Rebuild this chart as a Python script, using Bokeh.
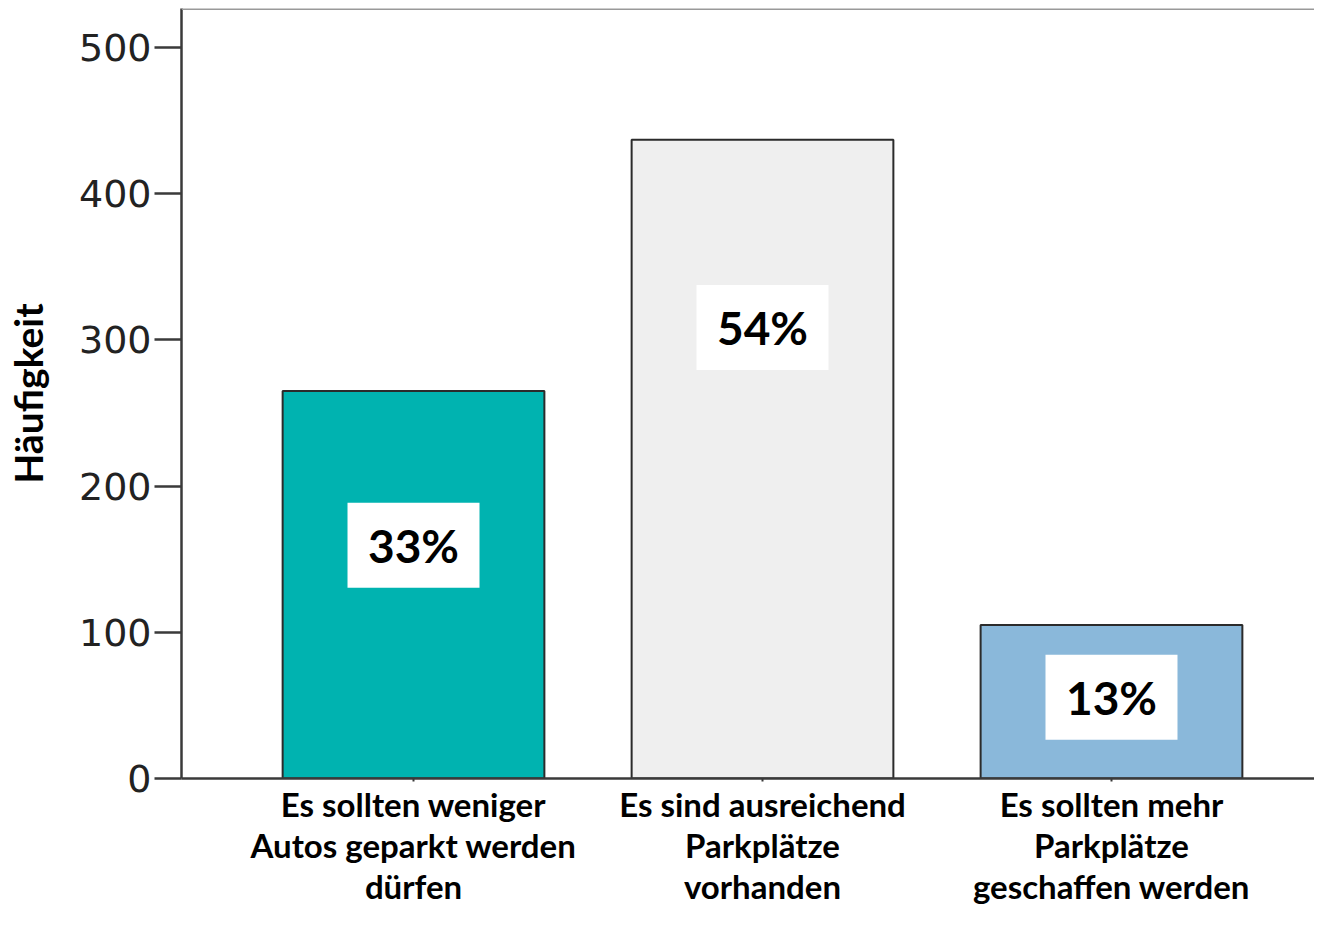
from bokeh.plotting import figure
from bokeh.models import Range1d, FixedTicker, Span
from bokeh.core.properties import value
from bokeh.embed import file_html
from bokeh.resources import INLINE

categories = [
    "Es sollten weniger\nAutos geparkt werden\ndürfen",
    "Es sind ausreichend\nParkplätze\nvorhanden",
    "Es sollten mehr\nParkplätze\ngeschaffen werden",
]
counts = [265, 437, 105]
percent_labels = ["33%", "54%", "13%"]
label_pos = [159.5, 308.5, 55.5]
bar_colors = ["#00b3b0", "#efefef", "#8ab8da"]
y_ticks = [0, 100, 200, 300, 400, 500]

xs = list(range(1, len(categories) + 1))

# layout (pixels)
W, H = 1314, 909
frame_left, frame_top, frame_bottom = 181, 8, 778
y_top = 526.7

p = figure(width=W, height=H, output_backend="svg", toolbar_location=None,
           x_range=Range1d(0.3352, 3.5817), y_range=Range1d(0, y_top),
           min_border_left=frame_left, min_border_top=frame_top,
           min_border_right=0, min_border_bottom=H - frame_bottom)
p.xgrid.visible = False
p.ygrid.visible = False
p.outline_line_color = None
p.background_fill_color = "white"
p.border_fill_color = "white"

p.vbar(x=xs, top=counts, width=0.75, fill_color=bar_colors,
       line_color="#2b2b2b", line_width=2)

p.rect(x=xs, y=label_pos, width=132, height=85, width_units="screen",
       height_units="screen", fill_color="white", line_color=None)
p.text(x=xs, y=label_pos, text=percent_labels, text_font=value("Lato"),
       text_font_style="bold", text_font_size="46px", text_align="center",
       text_baseline="middle", text_color="black")

p.add_layout(Span(location=y_top, dimension="width", line_color="#999999",
                  line_width=3))

# y axis
ya = p.yaxis[0]
ya.ticker = FixedTicker(ticks=y_ticks)
ya.axis_label = "Häufigkeit"
ya.axis_label_text_font = "Lato"
ya.axis_label_text_font_style = "bold"
ya.axis_label_text_font_size = "39px"
ya.axis_label_text_color = "black"
ya.axis_label_standoff = 25
ya.major_label_text_font = "DejaVu Sans"
ya.major_label_text_font_size = "38px"
ya.major_label_text_color = "#222222"
ya.major_label_standoff = 3
ya.major_tick_out = 27
ya.major_tick_in = 0
ya.minor_tick_line_color = None
ya.axis_line_width = 2.5
ya.axis_line_color = "#3a3a3a"
ya.major_tick_line_width = 2.5
ya.major_tick_line_color = "#3a3a3a"

# x axis
xa = p.xaxis[0]
xa.ticker = FixedTicker(ticks=xs)
xa.major_label_overrides = {x: c for x, c in zip(xs, categories)}
xa.major_label_text_font = "Lato"
xa.major_label_text_font_style = "bold"
xa.major_label_text_font_size = "33px"
xa.major_label_text_line_height = 1.035
xa.major_label_text_color = "black"
xa.major_label_standoff = 2
xa.major_tick_out = 3
xa.major_tick_in = 0
xa.minor_tick_line_color = None
xa.axis_line_width = 2.5
xa.axis_line_color = "#3a3a3a"
xa.major_tick_line_width = 2
xa.major_tick_line_color = "#3a3a3a"

open("out.html", "w").write(file_html(p, INLINE))
